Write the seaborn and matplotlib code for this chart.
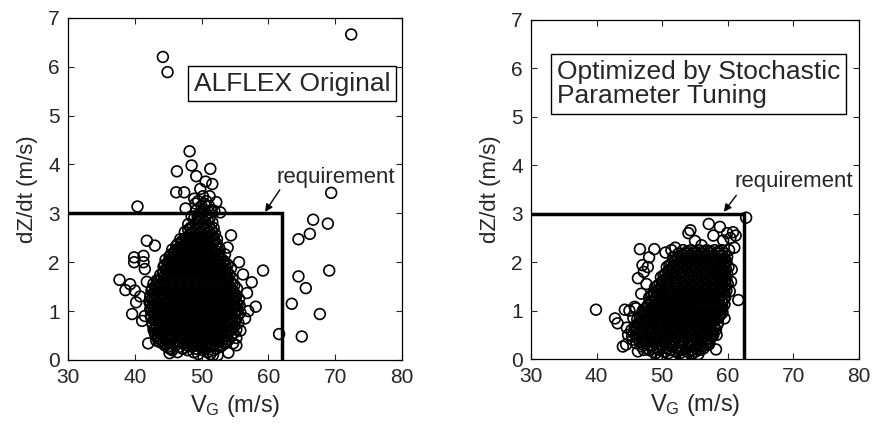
import pandas as pd
import seaborn as sns
import matplotlib
matplotlib.use("Agg")
import matplotlib.pyplot as plt

# Datos: V_G (m/s) y dZ/dt (m/s)
# Nucleo denso de la nube, por filas (dZ/dt, lista de V_G)
alflex_core_rows = [
    (0.12, [49.5, 51.3]),
    (0.20, [45.6, 47.9, 50.2, 51.8]),
    (0.27, [44.9, 46.7, 48.6, 49.9, 51.1, 52.8]),
    (0.34, [44.2, 45.8, 47.3, 48.5, 49.6, 50.7, 52.0, 53.4]),
    (0.41, [43.9, 45.0, 46.2, 47.8, 49.0, 50.3, 51.5, 52.6, 54.0]),
    (0.48, [43.4, 44.6, 45.7, 46.9, 48.1, 49.4, 50.6, 51.9, 53.2, 54.4]),
    (0.55, [43.0, 44.1, 45.3, 46.4, 47.6, 48.8, 50.1, 51.2, 52.5, 53.7, 54.8]),
    (0.62, [42.8, 43.8, 45.0, 46.1, 47.2, 48.4, 49.7, 50.9, 52.0, 53.2, 54.3, 55.2]),
    (0.69, [43.3, 44.4, 45.6, 46.8, 47.9, 49.1, 50.3, 51.6, 52.7, 53.9, 54.9]),
    (0.76, [42.6, 43.7, 44.9, 46.0, 47.3, 48.5, 49.8, 50.9, 52.2, 53.4, 54.5, 55.5]),
    (0.83, [42.9, 44.2, 45.4, 46.6, 47.8, 49.0, 50.2, 51.5, 52.7, 53.9, 55.1]),
    (0.90, [42.4, 43.5, 44.7, 45.9, 47.1, 48.3, 49.5, 50.7, 51.9, 53.1, 54.3, 55.4]),
    (0.97, [42.8, 44.0, 45.2, 46.5, 47.7, 48.9, 50.1, 51.3, 52.5, 53.7, 54.9, 55.8]),
    (1.04, [42.3, 43.4, 44.6, 45.8, 47.0, 48.2, 49.4, 50.6, 51.8, 53.0, 54.2, 55.3]),
    (1.11, [42.7, 43.9, 45.1, 46.4, 47.6, 48.8, 50.0, 51.2, 52.4, 53.6, 54.8, 55.7]),
    (1.18, [42.2, 43.3, 44.5, 45.7, 46.9, 48.1, 49.3, 50.5, 51.7, 52.9, 54.1, 55.2]),
    (1.25, [42.6, 43.8, 45.0, 46.3, 47.5, 48.7, 49.9, 51.1, 52.3, 53.5, 54.7, 55.6]),
    (1.32, [42.4, 43.4, 44.6, 45.8, 47.0, 48.2, 49.4, 50.6, 51.8, 53.0, 54.2, 55.2]),
    (1.39, [42.9, 44.1, 45.3, 46.5, 47.7, 48.9, 50.1, 51.3, 52.5, 53.7, 54.8]),
    (1.46, [42.6, 43.6, 44.8, 46.0, 47.2, 48.4, 49.6, 50.8, 52.0, 53.2, 54.4, 55.3]),
    (1.53, [43.2, 44.4, 45.6, 46.8, 48.0, 49.2, 50.4, 51.6, 52.8, 54.0, 54.9]),
    (1.60, [43.5, 44.6, 45.9, 47.1, 48.3, 49.5, 50.7, 51.9, 53.1, 54.3]),
    (1.67, [44.0, 45.2, 46.4, 47.6, 48.8, 50.0, 51.2, 52.4, 53.6, 54.6]),
    (1.74, [43.8, 44.8, 46.0, 47.2, 48.4, 49.6, 50.8, 52.0, 53.2, 54.2]),
    (1.81, [44.3, 45.5, 46.7, 47.9, 49.1, 50.3, 51.5, 52.7, 53.8]),
    (1.88, [44.8, 46.1, 47.3, 48.5, 49.7, 50.9, 52.1, 53.3, 54.4]),
    (1.95, [44.5, 45.6, 46.8, 48.0, 49.2, 50.4, 51.6, 52.8, 53.9]),
    (2.02, [45.1, 46.3, 47.5, 48.7, 49.9, 51.1, 52.3, 53.4]),
    (2.09, [45.7, 46.9, 48.1, 49.3, 50.5, 51.7, 52.9]),
    (2.16, [45.4, 46.5, 47.7, 48.9, 50.1, 51.3, 52.5, 53.5]),
    (2.23, [46.1, 47.3, 48.5, 49.7, 50.9, 52.1]),
    (2.30, [46.7, 47.9, 49.1, 50.3, 51.5, 52.6]),
    (2.37, [46.4, 47.5, 48.7, 49.9, 51.1, 52.3]),
    (2.44, [47.1, 48.3, 49.5, 50.7, 51.9]),
    (2.51, [47.8, 49.0, 50.2, 51.4]),
    (2.58, [48.4, 49.6, 50.8, 52.0]),
    (2.66, [48.0, 49.2, 50.4, 51.5]),
    (2.74, [48.7, 49.9, 51.1]),
    (2.82, [49.3, 50.5, 51.6]),
    (2.90, [48.9, 50.1, 51.2]),
    (2.98, [49.6, 50.8]),
    (3.06, [49.2, 50.4, 51.5]),
    (3.15, [50.0, 51.1]),
    (3.25, [49.5, 50.7]),
    (3.35, [50.2, 51.2]),
]

# Segunda tanda de filas, entre las anteriores
alflex_core_rows_b = [
    (0.16, [46.4, 48.8, 50.9]),
    (0.23, [45.3, 47.2, 49.2, 50.6, 52.2]),
    (0.30, [44.6, 46.1, 47.9, 49.3, 50.4, 51.7, 53.1]),
    (0.37, [43.7, 45.3, 46.7, 47.9, 49.1, 50.2, 51.3, 52.5, 53.8]),
    (0.44, [43.6, 44.7, 45.8, 47.2, 48.5, 49.7, 50.9, 52.1, 53.3]),
    (0.51, [43.1, 44.2, 45.3, 46.5, 47.6, 48.8, 50.0, 51.3, 52.6, 53.7]),
    (0.58, [43.5, 44.7, 45.8, 47.0, 48.2, 49.4, 50.6, 51.8, 53.0, 54.1]),
    (0.65, [43.0, 44.1, 45.3, 46.5, 47.6, 48.9, 50.1, 51.3, 52.4, 53.5, 54.6]),
    (0.72, [42.7, 43.8, 45.0, 46.2, 47.4, 48.6, 49.7, 51.0, 52.2, 53.4, 54.4]),
    (0.79, [43.2, 44.4, 45.5, 46.7, 47.9, 49.2, 50.4, 51.6, 52.8, 54.0, 55.0]),
    (0.86, [42.5, 43.6, 44.8, 46.0, 47.2, 48.4, 49.6, 50.8, 52.1, 53.3, 54.6]),
    (0.93, [43.0, 44.2, 45.4, 46.6, 47.8, 49.0, 50.2, 51.4, 52.6, 53.8, 55.0]),
    (1.00, [42.5, 43.6, 44.8, 46.0, 47.2, 48.4, 49.6, 50.8, 52.0, 53.2, 54.3, 55.2]),
    (1.07, [42.9, 44.1, 45.3, 46.5, 47.7, 48.9, 50.1, 51.3, 52.5, 53.7, 54.9]),
    (1.14, [42.4, 43.5, 44.7, 46.0, 47.2, 48.4, 49.6, 50.8, 52.0, 53.2, 54.4, 55.4]),
    (1.21, [42.9, 44.1, 45.3, 46.5, 47.7, 48.9, 50.1, 51.3, 52.5, 53.7, 54.9]),
    (1.28, [42.3, 43.4, 44.5, 45.6, 46.8, 48.0, 49.2, 50.4, 51.6, 52.8, 54.0, 55.1]),
    (1.35, [43.0, 44.1, 45.3, 46.5, 47.7, 48.9, 50.1, 51.3, 52.5, 53.7, 54.9]),
    (1.42, [42.5, 43.6, 44.8, 46.1, 47.3, 48.5, 49.7, 50.9, 52.1, 53.3, 54.5]),
    (1.49, [43.1, 44.3, 45.5, 46.7, 47.9, 49.1, 50.3, 51.5, 52.7, 53.9]),
    (1.56, [42.8, 43.9, 45.1, 46.3, 47.5, 48.7, 49.9, 51.1, 52.3, 53.5, 54.6]),
    (1.63, [43.3, 44.4, 45.6, 46.8, 48.0, 49.2, 50.4, 51.6, 52.8, 53.9]),
    (1.70, [44.4, 45.6, 46.8, 48.0, 49.2, 50.4, 51.6, 52.8, 53.9]),
    (1.77, [44.2, 45.3, 46.5, 47.7, 48.9, 50.1, 51.3, 52.5, 53.6]),
    (1.84, [44.7, 45.9, 47.1, 48.3, 49.5, 50.7, 51.9, 53.1]),
    (1.91, [44.3, 45.4, 46.6, 47.8, 49.0, 50.2, 51.4, 52.6, 53.6]),
    (1.98, [45.0, 46.2, 47.4, 48.6, 49.8, 51.0, 52.2, 53.3]),
    (2.05, [44.6, 45.7, 46.9, 48.1, 49.3, 50.5, 51.7, 52.8]),
    (2.12, [45.2, 46.4, 47.6, 48.8, 50.0, 51.2, 52.4]),
    (2.19, [45.9, 47.1, 48.3, 49.5, 50.7, 51.9]),
    (2.26, [45.6, 46.8, 48.0, 49.2, 50.4, 51.6, 52.7]),
    (2.33, [46.2, 47.4, 48.6, 49.8, 51.0, 52.1]),
    (2.40, [47.0, 48.1, 49.3, 50.5, 51.7]),
    (2.47, [46.8, 47.6, 48.8, 50.0, 51.2, 52.3]),
    (2.54, [48.1, 49.3, 50.5, 51.7]),
    (2.62, [47.5, 48.7, 49.9, 51.1]),
    (2.70, [48.3, 49.5, 50.7, 51.8]),
    (2.78, [48.0, 49.1, 50.3]),
    (2.86, [49.7, 50.9]),
    (2.94, [48.5, 49.4, 50.6]),
    (3.02, [50.1, 51.1]),
    (3.20, [49.1, 50.4]),
]

# Puntos sueltos (V_G, dZ/dt)
alflex_loose = [
    (44.2, 6.20), (44.9, 5.89), (72.4, 6.66), (69.4, 3.42), (66.7, 2.87),
    (68.9, 2.79), (66.2, 2.58), (64.5, 2.47), (59.2, 1.83), (69.1, 1.83),
    (64.5, 1.71), (65.6, 1.47), (63.5, 1.15), (67.7, 0.94), (61.6, 0.53),
    (65.0, 0.48), (40.4, 3.14),
    (48.2, 4.27), (48.5, 3.98), (46.3, 3.86), (51.3, 3.91), (49.2, 3.76),
    (46.2, 3.43), (47.4, 3.43), (50.6, 3.65), (51.6, 3.60), (52.2, 3.23),
    (49.8, 3.50), (48.9, 3.30), (47.6, 3.10), (51.9, 3.05), (52.8, 3.02),
    (37.7, 1.64), (39.9, 2.10), (39.9, 2.00), (41.3, 2.13), (41.3, 2.00),
    (41.5, 1.86), (41.8, 2.44), (43.0, 2.34), (39.6, 0.94), (38.6, 1.43),
    (39.3, 1.55), (40.2, 1.18), (40.8, 1.30), (41.1, 0.80), (41.8, 1.60),
    (40.0, 1.42), (42.0, 0.34), (41.5, 0.90),
    (57.5, 1.59), (56.8, 1.37), (58.1, 1.09), (54.4, 2.55), (56.5, 0.85),
    (55.8, 0.60), (55.2, 0.30), (57.0, 1.00), (56.2, 1.75), (55.6, 2.00),
    (53.9, 2.30), (55.2, 0.45), (54.0, 0.15), (54.7, 0.34),
    (45.2, 0.24), (45.2, 0.14), (47.1, 0.24), (51.7, 0.10), (52.4, 0.10),
    (50.3, 0.05), (53.6, 0.35), (44.5, 0.30), (43.2, 0.40),
]

tuned_core_rows = [
    (0.08, [49.8, 51.5, 53.3]),
    (0.15, [48.6, 50.4, 52.1, 53.9, 55.0]),
    (0.22, [47.8, 49.3, 50.8, 52.3, 53.7, 55.2, 56.3]),
    (0.29, [47.2, 48.5, 49.8, 51.1, 52.5, 53.9, 55.3, 56.6]),
    (0.36, [46.6, 47.8, 49.1, 50.4, 51.7, 53.0, 54.4, 55.8, 57.0]),
    (0.43, [46.2, 47.3, 48.5, 49.7, 51.0, 52.3, 53.6, 54.9, 56.2, 57.3]),
    (0.50, [46.0, 47.1, 48.2, 49.4, 50.6, 51.8, 53.1, 54.4, 55.7, 56.9, 57.8]),
    (0.57, [46.5, 47.6, 48.8, 50.0, 51.2, 52.5, 53.8, 55.1, 56.4, 57.5]),
    (0.64, [45.8, 46.9, 48.1, 49.3, 50.5, 51.8, 53.0, 54.3, 55.6, 56.8, 58.0]),
    (0.71, [46.4, 47.5, 48.7, 49.9, 51.1, 52.4, 53.7, 55.0, 56.2, 57.4, 58.4]),
    (0.78, [46.9, 48.0, 49.2, 50.4, 51.7, 52.9, 54.2, 55.5, 56.7, 57.9]),
    (0.85, [46.6, 47.6, 48.7, 49.9, 51.1, 52.3, 53.6, 54.9, 56.1, 57.3, 58.5]),
    (0.92, [47.2, 48.3, 49.5, 50.7, 51.9, 53.1, 54.4, 55.6, 56.8, 58.0, 58.9]),
    (0.99, [47.0, 48.0, 49.1, 50.3, 51.5, 52.7, 53.9, 55.1, 56.3, 57.5, 58.6]),
    (1.06, [47.6, 48.7, 49.9, 51.1, 52.3, 53.5, 54.7, 55.9, 57.1, 58.3, 59.2]),
    (1.13, [47.9, 49.0, 50.2, 51.4, 52.6, 53.8, 55.0, 56.2, 57.4, 58.6, 59.5]),
    (1.20, [48.3, 49.5, 50.7, 51.9, 53.1, 54.3, 55.5, 56.7, 57.9, 59.0]),
    (1.27, [48.0, 49.1, 50.3, 51.5, 52.7, 53.9, 55.1, 56.3, 57.5, 58.7, 59.6]),
    (1.34, [48.7, 49.9, 51.1, 52.3, 53.5, 54.7, 55.9, 57.1, 58.3, 59.3]),
    (1.41, [49.2, 50.4, 51.6, 52.8, 54.0, 55.2, 56.4, 57.6, 58.8, 59.8]),
    (1.48, [48.9, 50.0, 51.2, 52.4, 53.6, 54.8, 56.0, 57.2, 58.4, 59.5]),
    (1.55, [49.6, 50.8, 52.0, 53.2, 54.4, 55.6, 56.8, 58.0, 59.2, 60.0]),
    (1.62, [50.1, 51.3, 52.5, 53.7, 54.9, 56.1, 57.3, 58.5, 59.6]),
    (1.69, [49.8, 50.9, 52.1, 53.3, 54.5, 55.7, 56.9, 58.1, 59.3]),
    (1.76, [50.5, 51.7, 52.9, 54.1, 55.3, 56.5, 57.7, 58.9, 59.9]),
    (1.83, [51.0, 52.2, 53.4, 54.6, 55.8, 57.0, 58.2, 59.4]),
    (1.90, [50.7, 51.8, 53.0, 54.2, 55.4, 56.6, 57.8, 59.0, 60.1]),
    (1.97, [51.4, 52.6, 53.8, 55.0, 56.2, 57.4, 58.6, 59.6]),
    (2.04, [52.0, 53.2, 54.4, 55.6, 56.8, 58.0, 59.2]),
    (2.11, [51.7, 52.9, 54.1, 55.3, 56.5, 57.7, 58.9, 59.9]),
    (2.18, [52.5, 53.7, 54.9, 56.1, 57.3, 58.5, 59.5]),
    (2.25, [53.2, 54.4, 55.6, 56.8, 58.0, 59.1]),
]

tuned_core_rows_b = [
    (0.12, [49.0, 50.9, 52.7, 54.5]),
    (0.19, [47.2, 48.0, 49.6, 51.3, 53.0, 54.6, 55.8]),
    (0.26, [46.9, 48.4, 50.0, 51.5, 52.9, 54.4, 55.9]),
    (0.33, [46.0, 47.5, 48.9, 50.3, 51.6, 53.0, 54.5, 56.0, 57.2]),
    (0.40, [45.5, 46.9, 48.0, 49.2, 50.5, 51.8, 53.2, 54.6, 56.0, 56.9]),
    (0.47, [45.4, 46.6, 47.7, 48.9, 50.1, 51.4, 52.7, 54.0, 55.3, 56.6, 57.6]),
    (0.54, [45.6, 46.8, 47.9, 49.1, 50.3, 51.5, 52.8, 54.1, 55.4, 56.6, 57.7]),
    (0.61, [46.0, 47.2, 48.4, 49.6, 50.9, 52.1, 53.4, 54.7, 55.9, 57.1, 58.2]),
    (0.68, [45.9, 47.0, 48.2, 49.4, 50.6, 51.8, 53.1, 54.4, 55.6, 56.9, 57.9]),
    (0.75, [46.4, 47.4, 48.6, 49.8, 51.0, 52.3, 53.5, 54.8, 56.1, 57.3, 58.5]),
    (0.82, [46.2, 47.3, 48.4, 49.6, 50.8, 52.0, 53.2, 54.5, 55.8, 57.0, 58.2]),
    (0.89, [46.9, 48.0, 49.1, 50.3, 51.5, 52.7, 54.0, 55.2, 56.4, 57.6, 58.7]),
    (0.96, [47.5, 48.6, 49.8, 51.0, 52.2, 53.4, 54.6, 55.8, 57.0, 58.2, 59.2]),
    (1.03, [47.2, 48.2, 49.4, 50.6, 51.8, 53.0, 54.2, 55.4, 56.6, 57.8, 58.9]),
    (1.10, [47.8, 49.3, 50.5, 51.7, 52.9, 54.1, 55.3, 56.5, 57.7, 58.9]),
    (1.17, [48.4, 49.6, 50.8, 52.0, 53.2, 54.4, 55.6, 56.8, 58.0, 59.2]),
    (1.24, [48.9, 50.1, 51.3, 52.5, 53.7, 54.9, 56.1, 57.3, 58.5, 59.4]),
    (1.31, [48.3, 49.4, 50.6, 51.8, 53.0, 54.2, 55.4, 56.6, 57.8, 59.0]),
    (1.38, [48.8, 50.0, 51.2, 52.4, 53.6, 54.8, 56.0, 57.2, 58.4, 59.5]),
    (1.45, [49.6, 50.8, 52.0, 53.2, 54.4, 55.6, 56.8, 58.0, 59.1]),
    (1.52, [49.3, 50.4, 51.6, 52.8, 54.0, 55.2, 56.4, 57.6, 58.8, 59.7]),
    (1.59, [50.0, 51.2, 52.4, 53.6, 54.8, 56.0, 57.2, 58.4, 59.5]),
    (1.66, [50.5, 51.7, 52.9, 54.1, 55.3, 56.5, 57.7, 58.9, 59.8]),
    (1.73, [50.2, 51.3, 52.5, 53.7, 54.9, 56.1, 57.3, 58.5, 59.6]),
    (1.80, [50.9, 52.1, 53.3, 54.5, 55.7, 56.9, 58.1, 59.2]),
    (1.87, [51.4, 52.6, 53.8, 55.0, 56.2, 57.4, 58.6, 59.7]),
    (1.94, [51.1, 52.2, 53.4, 54.6, 55.8, 57.0, 58.2, 59.3]),
    (2.01, [51.8, 53.0, 54.2, 55.4, 56.6, 57.8, 59.0, 59.8]),
    (2.08, [52.4, 53.6, 54.8, 56.0, 57.2, 58.4, 59.5]),
    (2.15, [53.1, 54.3, 55.5, 56.7, 57.9, 59.1]),
    (2.22, [53.8, 55.0, 56.2, 57.4, 58.6]),
]

tuned_loose = [
    (39.9, 1.02), (62.8, 2.92), (61.6, 1.22), (42.8, 0.84), (43.2, 0.74),
    (44.0, 0.26), (44.5, 0.30), (57.1, 2.79), (54.3, 2.66), (54.0, 2.60),
    (55.0, 2.44), (58.8, 2.73), (59.9, 2.60), (60.8, 2.62), (61.2, 2.55),
    (60.4, 2.50), (61.0, 2.30), (60.2, 2.25), (46.6, 2.27), (48.8, 2.27),
    (47.0, 1.94), (47.8, 1.90), (46.3, 1.67), (47.6, 1.55), (46.8, 1.35),
    (47.2, 1.80), (49.2, 0.02), (53.1, 0.05), (46.3, 0.16), (53.6, 0.03),
    (59.5, 0.84), (58.3, 0.50), (57.1, 0.30), (60.5, 1.60), (60.3, 1.40),
    (60.6, 1.85), (44.8, 0.50), (45.3, 0.60), (44.6, 0.65), (45.0, 1.00),
    (46.0, 1.05), (45.6, 0.85), (52.0, 2.30), (51.4, 2.25), (50.5, 2.20),
    (48.0, 2.10), (56.0, 2.35), (57.8, 2.55), (59.3, 2.45), (58.2, 0.20),
    (55.5, 0.10), (44.3, 1.02), (45.8, 1.08),
]

# Requisito: dZ/dt <= 3 m/s y V_G por debajo del limite
req_rate = 3.0
req_vg_alflex = 62.1
req_vg_tuned = 62.5


def tabla(sueltos, *grupos_filas):
    """Junta las filas del nucleo y los puntos sueltos en un DataFrame."""
    vg, dz = [], []
    for filas in grupos_filas:
        for y, fila in filas:
            for x in fila:
                vg.append(x)
                dz.append(y)
    for x, y in sueltos:
        vg.append(x)
        dz.append(y)
    return pd.DataFrame({"VG": vg, "dZdt": dz})


def panel(ax, datos, req_vg, titulo, titulo_pos, titulo_ha, req_xy, req_texto):
    sns.scatterplot(x="VG", y="dZdt", data=datos, ax=ax, marker="o", s=60,
                    color="none", edgecolor="black", linewidth=1.2, legend=False)
    # linea del requisito
    ax.plot([30, req_vg, req_vg], [req_rate, req_rate, 0], color="black", lw=2.5,
            solid_joinstyle="miter")
    ax.text(req_texto[0], req_texto[1], "requirement", ha="center", va="center", fontsize=16)
    ax.annotate("", xy=req_xy[1], xytext=req_xy[0],
                arrowprops=dict(arrowstyle="-|>", color="black", lw=1.0, mutation_scale=11,
                                shrinkA=0, shrinkB=0))
    ax.text(titulo_pos[0], titulo_pos[1], titulo, transform=ax.transAxes, ha=titulo_ha,
            va="center", fontsize=19, linespacing=1.0,
            bbox=dict(boxstyle="square,pad=0.22", fc="white", ec="black", lw=1.0))

    ax.set_xlim(30, 80)
    ax.set_ylim(0, 7)
    ax.set_xticks([30, 40, 50, 60, 70, 80])
    ax.set_yticks(range(0, 8))
    ax.set_xlabel(r"$\mathregular{V_G}$ (m/s)", fontsize=17, labelpad=4)
    ax.set_ylabel("dZ/dt (m/s)", fontsize=16, labelpad=7)
    ax.tick_params(direction="in", top=True, right=True, length=4, width=0.8,
                   labelsize=15, pad=6)
    for lado in ax.spines.values():
        lado.set_visible(True)
        lado.set_linewidth(0.9)
        lado.set_color("black")


if __name__ == "__main__":
    sns.set_style("ticks")
    plt.rcParams["font.family"] = ["Liberation Sans", "DejaVu Sans"]
    plt.rcParams["mathtext.fontset"] = "custom"
    plt.rcParams["mathtext.rm"] = "Liberation Sans"

    fig = plt.figure(figsize=(8.72, 4.25), dpi=100)
    ax1 = fig.add_axes([0.078, 0.153, 0.383, 0.805])
    ax2 = fig.add_axes([0.609, 0.155, 0.376, 0.798])

    panel(ax1, tabla(alflex_loose, alflex_core_rows, alflex_core_rows_b), req_vg_alflex,
          "ALFLEX Original", (0.67, 0.808), "center",
          ((61.7, 3.48), (59.5, 3.03)), (70.1, 3.74))
    panel(ax2, tabla(tuned_loose, tuned_core_rows, tuned_core_rows_b), req_vg_tuned,
          "Optimized by Stochastic\nParameter Tuning", (0.08, 0.811), "left",
          ((61.3, 3.38), (59.4, 3.04)), (70.1, 3.66))

    fig.savefig("out.png", dpi=100)
